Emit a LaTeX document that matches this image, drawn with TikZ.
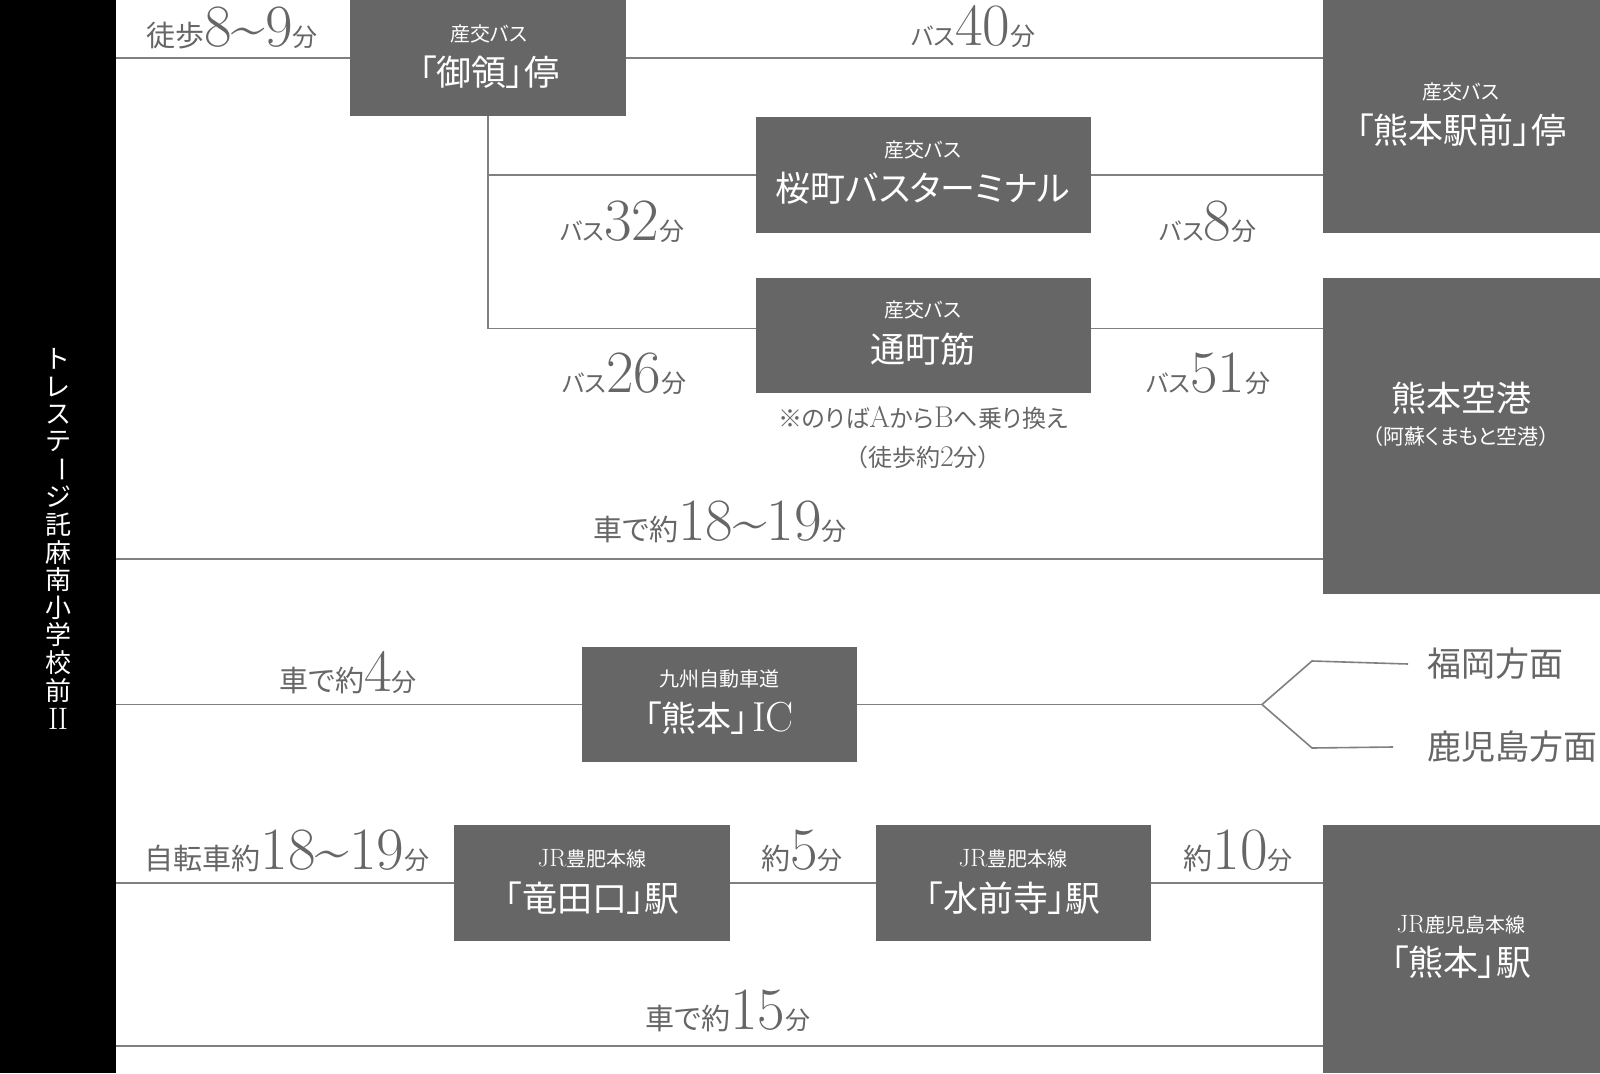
\documentclass[tikz,border=0pt]{standalone}
\usepackage{fontspec}
\newfontfamily\jp{Noto Sans CJK JP}[RawFeature=+palt]
\definecolor{boxg}{HTML}{666666}
\definecolor{txtg}{HTML}{666666}
\definecolor{lineg}{HTML}{808080}
\newcommand\bigdig[1]{{\rmfamily\fontsize{60}{60}\selectfont #1}}
\newcommand\fun{{\fontsize{25}{25}\selectfont 分}}
\newcommand\bas{{\fontsize{24}{24}\selectfont バス}}
\newcommand\wv{\textasciitilde}
\newcommand\lat[2]{{\rmfamily\fontsize{#1}{#1}\selectfont #2}}
\begin{document}
\begin{tikzpicture}[x=1pt,y=-1pt,
  box/.style={fill=boxg,draw=none,inner sep=0pt,outer sep=0pt,rectangle},
  conn/.style={draw=lineg,line width=1.6pt},
  lbl/.style={text=txtg,font=\jp\fontsize{29}{29}\selectfont,inner sep=0pt,anchor=base},
  note/.style={text=txtg,font=\jp\fontsize{24}{24}\selectfont,inner sep=0pt},
  bsub/.style={text=white,font=\jp\fontsize{20}{20}\selectfont,inner sep=0pt},
  bmain/.style={text=white,font=\jp\fontsize{35}{35}\selectfont,inner sep=0pt},
  dir/.style={text=txtg,font=\jp\fontsize{34}{34}\selectfont,inner sep=0pt,anchor=west},
  vt/.style={text=white,font=\jp\fontsize{26}{26}\selectfont,inner sep=0pt}]
\useasboundingbox (0,0) rectangle (1600,1073);
\fill[white] (0,0) rectangle (1600,1073);
% left bar
\node[box,fill=black,minimum width=116pt,minimum height=1073pt] (bar) at (58,536.5) {};
\foreach \c/\r [count=\i from 0] in {ト/0,レ/0,ス/0,テ/0,ー/-90,ジ/0,託/0,麻/0,南/0,小/0,学/0,校/0,前/0}
  \node[vt,rotate=\r] (v\i) at (58,{359+27.6*\i}) {\c};
\node[vt] (v14) at (58,{359+27.6*13+1}) {\lat{31}{I\kern-0.5pt I}};
% boxes
\node[box,minimum width=276pt,minimum height=116pt] (goryo) at (488,58) {};
\node[box,minimum width=277pt,minimum height=233pt] (ekimae) at (1461.5,116.5) {};
\node[box,minimum width=335pt,minimum height=116pt] (sakura) at (923.5,175) {};
\node[box,minimum width=335pt,minimum height=115pt] (toricho) at (923.5,335.5) {};
\node[box,minimum width=277pt,minimum height=316pt] (airport) at (1461.5,436) {};
\node[box,minimum width=275pt,minimum height=115pt] (ic) at (719.5,704.5) {};
\node[box,minimum width=276pt,minimum height=116pt] (tatsuta) at (592,883) {};
\node[box,minimum width=275pt,minimum height=116pt] (suizenji) at (1013.5,883) {};
\node[box,minimum width=277pt,minimum height=248pt] (station) at (1461.5,949) {};
% box texts
\node[bsub] (goryoS) at (489,34) {産交バス};
\node[bmain] (goryoM) at (489,72) {「御領」停};
\node[bsub] (ekiS) at (1461,92) {産交バス};
\node[bmain] (ekiM) at (1461,130) {「熊本駅前」停};
\node[bsub] (sakS) at (923,150) {産交バス};
\node[bmain] (sakM) at (923,188) {桜町バスターミナル};
\node[bsub] (torS) at (923,310) {産交バス};
\node[bmain] (torM) at (923,349) {通町筋};
\node[bmain] (airM) at (1461,398) {熊本空港};
\node[bsub,font=\jp\fontsize{21}{21}\selectfont] (airS) at (1461,437) {（阿蘇くまもと空港）};
\node[bsub] (icS) at (719,679) {九州自動車道};
\node[bmain] (icM) at (719,718) {「熊本」\kern3pt\lat{42}{IC}};
\node[bsub] (tatS) at (592,859) {\lat{25}{JR}豊肥本線};
\node[bmain] (tatM) at (592,898) {「竜田口」駅};
\node[bsub] (suiS) at (1013,859) {\lat{25}{JR}豊肥本線};
\node[bmain] (suiM) at (1013,898) {「水前寺」駅};
\node[bsub] (staS) at (1461,925) {\lat{25}{JR}鹿児島本線};
\node[bmain] (staM) at (1461,962) {「熊本」駅};
% direction labels
\node[dir] (fuk) at (1427,664) {福岡方面};
\node[dir] (kag) at (1427,747) {鹿児島方面};
% connectors
\draw[conn] (bar.east |- goryo.west) -- (goryo.west);
\draw[conn] (goryo.east) -- (ekimae.west |- goryo.east);
\coordinate (tw) at ([yshift=7pt]toricho.west);
\coordinate (te) at ([yshift=7pt]toricho.east);
\draw[conn] (goryo.south) -- (goryo.south |- tw) -- (tw);
\draw[conn] (goryo.south |- sakura.west) -- (sakura.west);
\draw[conn] (sakura.east) -- (ekimae.west |- sakura.east);
\draw[conn] (te) -- (airport.west |- te);
\coordinate (car1e) at (airport.west |- 0,559);
\draw[conn] (bar.east |- car1e) -- (car1e);
\draw[conn] (bar.east |- ic.west) -- (ic.west);
\coordinate (fork) at (1262,704.5);
\draw[conn] (ic.east) -- (fork);
\draw[conn] (fork) -- ++(50,-43.5) -- ([xshift=-19pt]fuk.west);
\draw[conn] (fork) -- ++(50,43.5) -- ([xshift=-34pt]kag.west);
\draw[conn] (bar.east |- tatsuta.west) -- (tatsuta.west);
\draw[conn] (tatsuta.east) -- (suizenji.west);
\draw[conn] (suizenji.east) -- (station.west |- suizenji.east);
\coordinate (car2e) at (station.west |- 0,1046);
\draw[conn] (bar.east |- car2e) -- (car2e);
% time labels
\node[lbl] (l1) at (232,47) {徒歩\bigdig{8\wv9}\fun};
\node[lbl] (l2) at (973,46) {\bas\bigdig{40}\fun};
\node[lbl] (l3) at (622,240) {\bas\bigdig{32}\fun};
\node[lbl] (l4) at (1208,240) {\bas\bigdig{8}\fun};
\node[lbl] (l5) at (624,392) {\bas\bigdig{26}\fun};
\node[lbl] (l6) at (1208,392) {\bas\bigdig{51}\fun};
\node[lbl] (l7) at (720,540) {車で約\bigdig{18\wv19}\fun};
\node[lbl] (l8) at (348,691) {車で約\bigdig{4}\fun};
\node[lbl] (l9) at (287,869) {自転車約\bigdig{18\wv19}\fun};
\node[lbl] (l10) at (802,869) {約\bigdig{5}\fun};
\node[lbl] (l11) at (1238,869) {約\bigdig{10}\fun};
\node[lbl] (l12) at (728,1029) {車で約\bigdig{15}\fun};
\node[note] (n1) at (923,418) {※のりば\lat{30}{A}から\lat{30}{B}へ乗り換え};
\node[note] (n2) at (923,457) {（徒歩約\lat{30}{2}分）};
\end{tikzpicture}
\end{document}
